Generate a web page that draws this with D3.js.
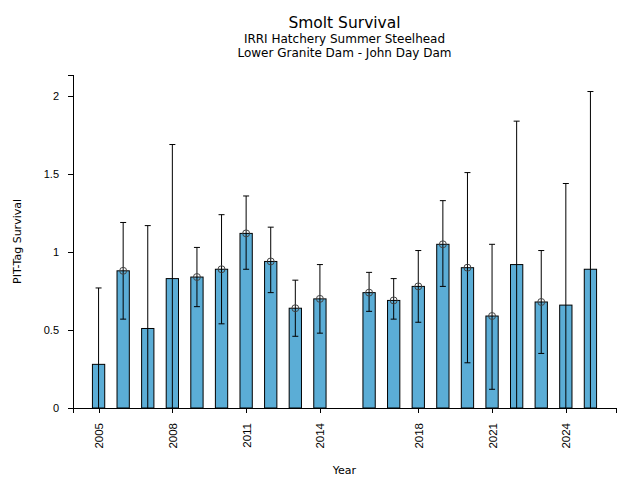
<!DOCTYPE html>
<html lang="en">
<head>
  <meta charset="utf-8">
  <script src="https://d3js.org/d3.v7.min.js"></script>
  <style>
    body { margin: 0; background: #fff; }
    svg { font-family: "DejaVu Sans", sans-serif; }
    .axis path, .axis line { stroke: #000; shape-rendering: crispEdges; }
    .axis text { font-size: 11px; fill: #000; }
    .axis.x text { font-size: 11.5px; }
  </style>
</head>
<body>
<svg id="chart" width="640" height="480"></svg>

<script>
  // Survival estimates (2015 has no data)
  const years = [2005, 2006, 2007, 2008, 2009, 2010, 2011, 2012, 2013, 2014,
                 2016, 2017, 2018, 2019, 2020, 2021, 2022, 2023, 2024, 2025];
  const survival = [0.28, 0.88, 0.51, 0.83, 0.84, 0.89, 1.12, 0.94, 0.64, 0.70,
                    0.74, 0.69, 0.78, 1.05, 0.90, 0.59, 0.92, 0.68, 0.66, 0.89];
  const upperCI = [0.77, 1.19, 1.17, 1.69, 1.03, 1.24, 1.36, 1.16, 0.82, 0.92,
                   0.87, 0.83, 1.01, 1.33, 1.51, 1.05, 1.84, 1.01, 1.44, 2.03];
  const lowerCI = [-0.21, 0.57, -0.16, -0.03, 0.65, 0.54, 0.89, 0.74, 0.46, 0.48,
                   0.62, 0.57, 0.55, 0.78, 0.29, 0.12, -0.01, 0.35, -0.13, -0.25];
  // years that carry the open-circle point marker
  const hasPoint = [false, true, false, false, true, true, true, true, true, true,
                    true, true, true, true, true, true, false, true, false, false];
  const xTicks = [2005, 2008, 2011, 2014, 2018, 2021, 2024];
  const yTicks = [0, 0.5, 1, 1.5, 2];

  const data = years.map((y, i) => ({
    year: y, value: survival[i], hi: upperCI[i], lo: lowerCI[i], point: hasPoint[i]
  }));

  const svg = d3.select("#chart");
  const plotLeft = 73, plotRight = 616, plotTop = 75, plotBottom = 408;

  const x = d3.scaleLinear().domain([2003.96, 2026.04]).range([plotLeft, plotRight]);
  const y = d3.scaleLinear().domain([0, 2.136]).range([plotBottom, plotTop]);
  const barW = x(2005.5) - x(2005);

  // clip marks to the plot area
  svg.append("clipPath").attr("id", "plot")
    .append("rect")
    .attr("x", plotLeft).attr("y", plotTop)
    .attr("width", plotRight - plotLeft).attr("height", plotBottom - plotTop);

  const g = svg.append("g").attr("clip-path", "url(#plot)");

  // bars
  g.selectAll(".bar")
    .data(data)
    .join("rect")
    .attr("class", "bar")
    .attr("x", d => x(d.year) - barW / 2)
    .attr("y", d => y(d.value))
    .attr("width", barW)
    .attr("height", d => y(0) - y(d.value))
    .attr("fill", "#5badd6")
    .attr("stroke", "#000")
    .attr("stroke-width", 1);

  // error bars
  const cap = 3;
  const eb = g.selectAll(".err").data(data).join("g").attr("class", "err")
    .attr("stroke", "#000").attr("stroke-width", 1);
  eb.append("line")
    .attr("x1", d => x(d.year)).attr("x2", d => x(d.year))
    .attr("y1", d => y(d.lo)).attr("y2", d => y(d.hi));
  eb.append("line")
    .attr("x1", d => x(d.year) - cap).attr("x2", d => x(d.year) + cap)
    .attr("y1", d => y(d.hi)).attr("y2", d => y(d.hi));
  eb.append("line")
    .attr("x1", d => x(d.year) - cap).attr("x2", d => x(d.year) + cap)
    .attr("y1", d => y(d.lo)).attr("y2", d => y(d.lo));

  // point markers
  g.selectAll(".pt")
    .data(data.filter(d => d.point))
    .join("circle")
    .attr("class", "pt")
    .attr("cx", d => x(d.year))
    .attr("cy", d => y(d.value))
    .attr("r", 3.5)
    .attr("fill", "none")
    .attr("stroke", "#444")
    .attr("stroke-width", 1);

  // x axis
  const xAxis = svg.append("g")
    .attr("class", "axis x")
    .attr("transform", `translate(0,${plotBottom})`)
    .call(d3.axisBottom(x).tickValues(xTicks).tickFormat(d3.format("d")).tickSizeOuter(0).tickSize(5));
  xAxis.selectAll("text")
    .attr("transform", "rotate(-90)")
    .attr("text-anchor", "end")
    .attr("x", -15)
    .attr("y", 0)
    .attr("dy", "0.35em");

  // y axis
  svg.append("g")
    .attr("class", "axis")
    .attr("transform", `translate(${plotLeft},0)`)
    .call(d3.axisLeft(y).tickValues(yTicks).tickFormat(d => d).tickSizeOuter(0).tickSize(5).tickPadding(9));

  // labels and titles
  const midX = (plotLeft + plotRight) / 2;
  const midY = (plotTop + plotBottom) / 2;

  svg.append("text")
    .attr("x", 17).attr("y", midY)
    .attr("transform", `rotate(-90,17,${midY})`)
    .attr("text-anchor", "middle").attr("dy", "0.35em")
    .attr("font-size", "11px")
    .text("PIT-Tag Survival");

  svg.append("text")
    .attr("x", midX).attr("y", 474)
    .attr("text-anchor", "middle")
    .attr("font-size", "11px")
    .text("Year");

  svg.append("text")
    .attr("x", midX).attr("y", 28)
    .attr("text-anchor", "middle")
    .attr("font-size", "15.5px")
    .text("Smolt Survival");

  svg.append("text")
    .attr("x", midX).attr("y", 42.5)
    .attr("text-anchor", "middle")
    .attr("font-size", "12px")
    .text("IRRI Hatchery Summer Steelhead");

  svg.append("text")
    .attr("x", midX).attr("y", 56.5)
    .attr("text-anchor", "middle")
    .attr("font-size", "12px")
    .text("Lower Granite Dam - John Day Dam");
</script>
</body>
</html>
